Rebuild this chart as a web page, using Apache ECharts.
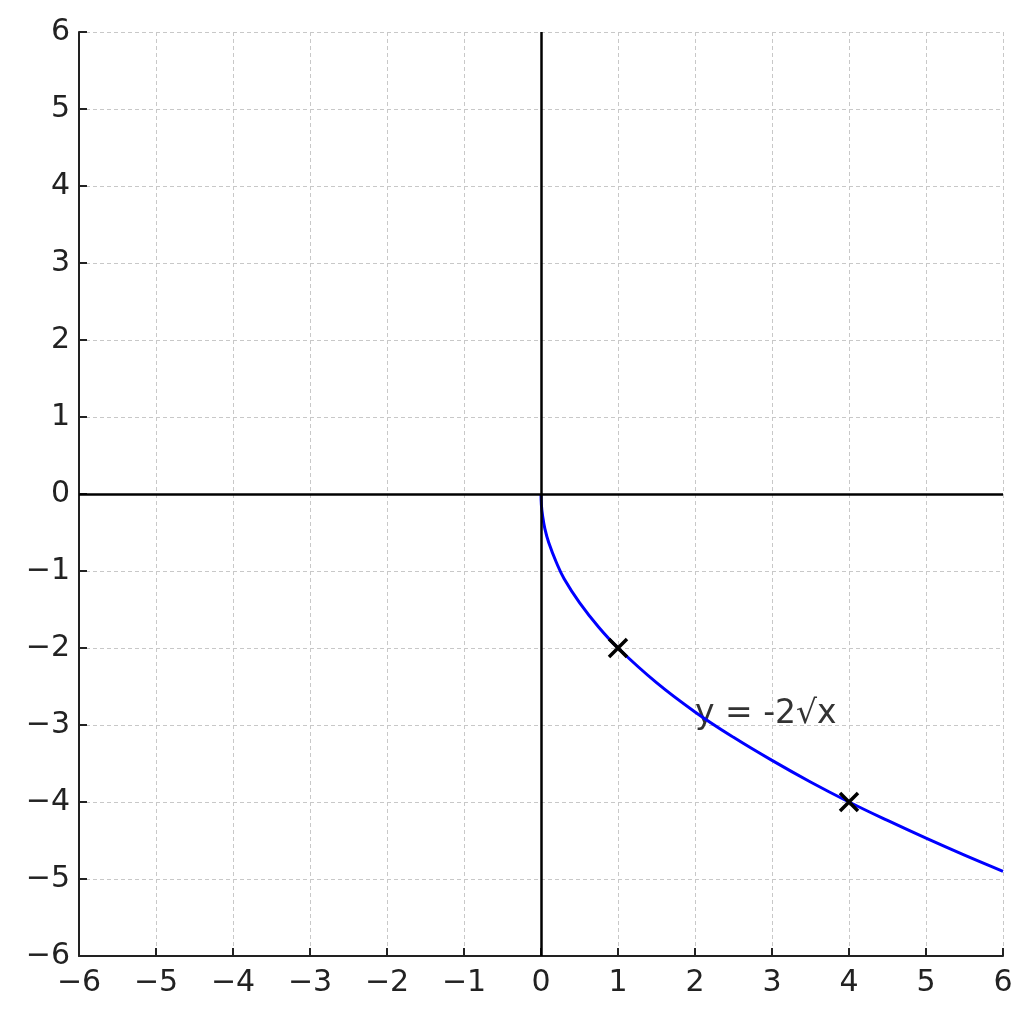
<!DOCTYPE html>
<html>
<head>
<meta charset="utf-8">
<script src="https://cdn.jsdelivr.net/npm/echarts@6/dist/echarts.min.js"></script>
<style>html,body{margin:0;padding:0;background:#fff}#c{width:1033px;height:1019px}</style>
</head>
<body>
<div id="c"></div>
<script>
// curve y = -2√x
const curveX = [0, 0.005, 0.02, 0.05, 0.1, 0.2, 0.3, 0.5, 0.75, 1, 1.5, 2, 2.5, 3, 3.5, 4, 4.5, 5, 5.5, 6];
const curveY = [0, -0.14, -0.28, -0.45, -0.63, -0.89, -1.10, -1.41, -1.73, -2.00, -2.45, -2.83, -3.16, -3.46, -3.74, -4.00, -4.24, -4.47, -4.69, -4.90];
const markX = [1, 4];
const markY = [-2, -4];
const labelText = 'y = -2√x';
const labelPos = [2, -2.86];
const ticks = [-6, -5, -4, -3, -2, -1, 0, 1, 2, 3, 4, 5, 6];

const fmt = v => (v < 0 ? '\u2212' + Math.abs(v) : String(v));
const font = 'DejaVu Sans';
const axisCommon = {
  type: 'value', min: ticks[0], max: ticks[ticks.length - 1], interval: 1,
  axisLine: { show: true, onZero: false, lineStyle: { color: '#222', width: 2 } },
  axisTick: { show: true, inside: true, length: 8, lineStyle: { color: '#222', width: 2 } },
  axisLabel: { formatter: fmt, color: '#222', fontSize: 30, fontFamily: font },
  splitLine: { show: true, lineStyle: { color: '#c8c8c8', width: 1, type: [4, 3] } }
};
const chart = echarts.init(document.getElementById('c'), null, { renderer: 'canvas' });
chart.setOption({
  animation: false,
  backgroundColor: '#fff',
  grid: { left: 79, top: 32, width: 924, height: 924, containLabel: false },
  xAxis: Object.assign({}, axisCommon, { axisLabel: Object.assign({}, axisCommon.axisLabel, { margin: 12 }) }),
  yAxis: Object.assign({}, axisCommon, { axisLabel: Object.assign({}, axisCommon.axisLabel, { margin: 9, padding: [4, 0, 0, 0] }) }),
  series: [
    {
      type: 'scatter', z: 1,
      data: [labelPos],
      symbolSize: 0,
      itemStyle: { opacity: 1 },
      label: { show: true, position: 'right', distance: 0, formatter: labelText, color: '#333', fontSize: 33, fontFamily: font }
    },
    {
      type: 'line', z: 2,
      data: [],
      markLine: {
        silent: true, symbol: 'none', label: { show: false },
        lineStyle: { color: '#000', width: 2.5, type: 'solid' },
        data: [{ xAxis: 0 }, { yAxis: 0 }]
      }
    },
    {
      type: 'line', z: 3,
      data: curveX.map((x, i) => [x, curveY[i]]),
      smooth: 0.4, showSymbol: false, symbol: 'none',
      lineStyle: { color: '#0000ff', width: 3 }
    },
    {
      type: 'scatter', z: 4,
      data: markX.map((x, i) => [x, markY[i]]),
      symbol: 'path://M0,0L10,10M10,0L0,10',
      symbolSize: 18,
      itemStyle: { color: 'none', borderColor: '#000', borderWidth: 3.5, opacity: 1 }
    }
  ]
});
</script>
</body>
</html>
